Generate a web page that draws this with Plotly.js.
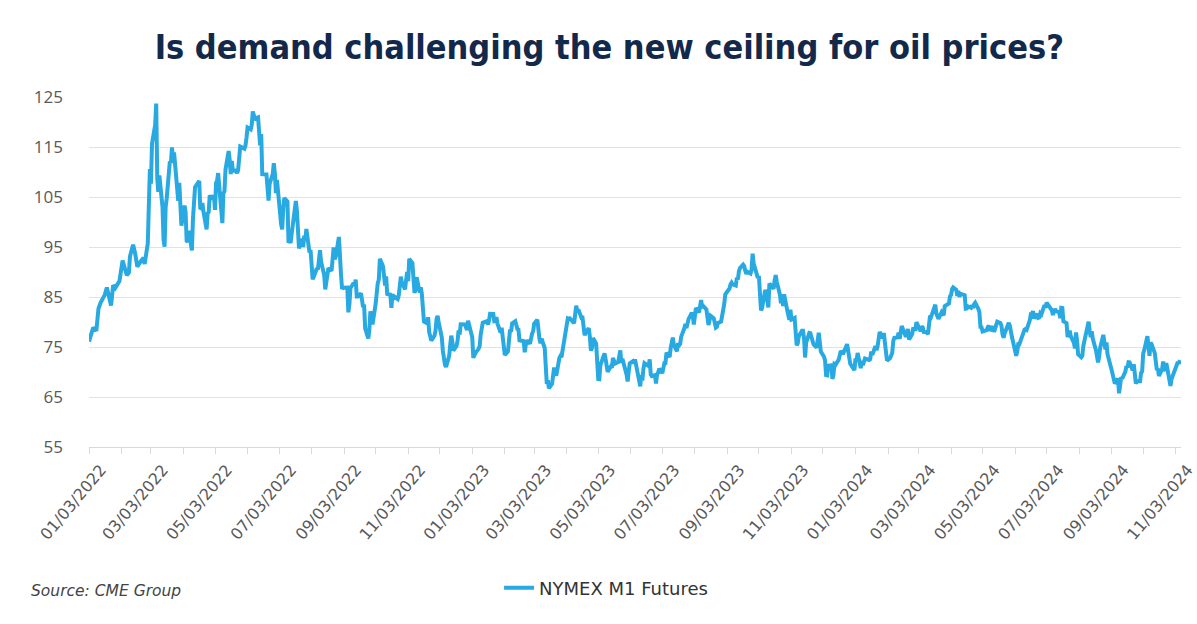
<!DOCTYPE html>
<html><head><meta charset="utf-8">
<script src="https://cdn.plot.ly/plotly-3.0.1.min.js"></script>
<style>html,body{margin:0;padding:0;background:#fff}#chart{width:1197px;height:624px}</style>
</head><body><div id="chart"></div>
<script>
// NYMEX WTI front-month (M1) settlement, USD/bbl — dates as MM-DD per year
const d22 = [
"01-03","01-05","01-07","01-10","01-12","01-14","01-18","01-20","01-24","01-26","01-28",
"02-01","02-03","02-04","02-08","02-10","02-11","02-14","02-16","02-18","02-22","02-24","02-25","02-28",
"03-01","03-02","03-03","03-04","03-07","03-08","03-09","03-10","03-11","03-14","03-15","03-16","03-17","03-18","03-21","03-22","03-23","03-24","03-25","03-28","03-29","03-30","03-31",
"04-01","04-04","04-05","04-06","04-07","04-08","04-11","04-12","04-13","04-14","04-18","04-19","04-20","04-21","04-22","04-25","04-26","04-27","04-28","04-29",
"05-02","05-03","05-04","05-05","05-06","05-09","05-10","05-11","05-12","05-13","05-16","05-17","05-18","05-19","05-20","05-23","05-24","05-25","05-26","05-27","05-31",
"06-01","06-02","06-03","06-06","06-07","06-08","06-09","06-10","06-13","06-14","06-15","06-16","06-17","06-21","06-22","06-23","06-24","06-27","06-28","06-29","06-30",
"07-01","07-05","07-06","07-07","07-08","07-11","07-12","07-13","07-14","07-15","07-18","07-19","07-20","07-21","07-22","07-25","07-26","07-27","07-28","07-29",
"08-01","08-02","08-03","08-04","08-05","08-08","08-09","08-10","08-11","08-12","08-15","08-16","08-17","08-18","08-19","08-22","08-23","08-24","08-25","08-26","08-29","08-30","08-31",
"09-01","09-02","09-06","09-07","09-08","09-09","09-12","09-13","09-14","09-15","09-16","09-19","09-20","09-21","09-22","09-23","09-26","09-27","09-28","09-29","09-30",
"10-03","10-04","10-05","10-06","10-07","10-10","10-11","10-12","10-13","10-14","10-17","10-18","10-19","10-20","10-21","10-24","10-25","10-26","10-27","10-28","10-31",
"11-01","11-02","11-03","11-04","11-07","11-08","11-09","11-10","11-11","11-14","11-15","11-16","11-17","11-18","11-21","11-22","11-23","11-25","11-28","11-29","11-30",
"12-01","12-02","12-05","12-06","12-07","12-08","12-09","12-12","12-13","12-14","12-15","12-16","12-19","12-20","12-21","12-22","12-23","12-27","12-28","12-29","12-30"];
const p22 = [
76.08,77.85,78.90,78.23,82.64,83.82,85.43,86.90,83.31,87.35,86.82,
88.20,90.27,92.31,89.36,89.88,93.10,95.46,93.66,91.07,92.35,92.81,91.59,95.72,
103.41,110.60,107.67,115.68,119.40,123.70,108.70,106.02,109.33,103.01,96.44,95.04,102.98,104.70,112.12,111.76,114.93,112.34,113.90,105.96,104.24,107.82,100.28,
99.27,103.28,101.96,96.23,96.03,98.26,94.29,100.60,104.25,106.95,108.21,102.56,102.75,103.79,102.07,98.54,101.70,101.99,105.36,104.69,
105.17,102.41,107.81,108.26,109.77,103.09,99.76,105.71,106.13,110.49,114.20,112.40,109.59,112.21,110.28,110.29,109.77,110.33,114.09,115.07,114.67,
115.26,116.87,118.87,118.50,119.41,122.11,121.51,120.67,120.93,118.93,115.31,117.59,109.56,109.52,106.19,104.27,107.62,109.57,111.76,109.78,105.76,
108.43,99.50,98.53,102.73,104.79,104.09,95.84,96.30,95.78,97.59,102.60,104.22,102.26,96.35,94.70,96.70,94.98,97.26,96.42,98.62,
93.89,94.42,90.66,88.54,89.01,90.76,90.50,91.93,94.34,92.09,89.41,86.53,88.11,90.50,90.77,90.23,93.74,94.89,92.52,93.06,97.01,91.64,89.55,
86.61,86.87,86.88,81.94,83.54,86.79,87.78,87.31,88.48,85.10,85.11,85.73,84.45,82.94,83.49,78.74,76.71,78.50,82.15,81.23,79.49,
83.63,86.52,87.76,88.45,92.64,91.13,89.35,87.27,89.11,85.61,85.46,82.82,85.55,84.51,85.05,84.58,85.32,87.91,89.08,87.90,86.53,
88.37,90.00,88.17,92.61,91.79,88.91,85.83,86.47,88.96,85.87,86.92,85.59,81.64,80.08,79.73,80.95,77.94,76.28,77.24,78.20,80.55,
81.22,79.98,76.93,74.25,72.01,71.46,71.02,73.17,75.39,77.28,76.11,74.29,75.19,76.23,78.29,77.49,79.56,79.53,78.96,78.40,80.26];

const d23 = [
"01-03","01-04","01-05","01-06","01-09","01-10","01-11","01-12","01-13","01-17","01-18","01-19","01-20","01-23","01-24","01-25","01-26","01-27","01-30","01-31",
"02-01","02-02","02-03","02-06","02-07","02-08","02-09","02-10","02-13","02-14","02-15","02-16","02-17","02-21","02-22","02-23","02-24","02-27","02-28",
"03-01","03-02","03-03","03-06","03-07","03-08","03-09","03-10","03-13","03-14","03-15","03-16","03-17","03-20","03-21","03-22","03-23","03-24","03-27","03-28","03-29","03-30","03-31",
"04-03","04-04","04-05","04-06","04-10","04-11","04-12","04-13","04-14","04-17","04-18","04-19","04-20","04-21","04-24","04-25","04-26","04-27","04-28",
"05-01","05-02","05-03","05-04","05-05","05-08","05-09","05-10","05-11","05-12","05-15","05-16","05-17","05-18","05-19","05-22","05-23","05-24","05-25","05-26","05-30","05-31",
"06-01","06-02","06-05","06-06","06-07","06-08","06-09","06-12","06-13","06-14","06-15","06-16","06-20","06-21","06-22","06-23","06-26","06-27","06-28","06-29","06-30",
"07-03","07-05","07-06","07-07","07-10","07-11","07-12","07-13","07-14","07-17","07-18","07-19","07-20","07-21","07-24","07-25","07-26","07-27","07-28","07-31",
"08-01","08-02","08-03","08-04","08-07","08-08","08-09","08-10","08-11","08-14","08-15","08-16","08-17","08-18","08-21","08-22","08-23","08-24","08-25","08-28","08-29","08-30","08-31",
"09-01","09-05","09-06","09-07","09-08","09-11","09-12","09-13","09-14","09-15","09-18","09-19","09-20","09-21","09-22","09-25","09-26","09-27","09-28","09-29",
"10-02","10-03","10-04","10-05","10-06","10-09","10-10","10-11","10-12","10-13","10-16","10-17","10-18","10-19","10-20","10-23","10-24","10-25","10-26","10-27","10-30","10-31",
"11-01","11-02","11-03","11-06","11-07","11-08","11-09","11-10","11-13","11-14","11-15","11-16","11-17","11-20","11-21","11-22","11-24","11-27","11-28","11-29","11-30",
"12-01","12-04","12-05","12-06","12-07","12-08","12-11","12-12","12-13","12-14","12-15","12-18","12-19","12-20","12-21","12-22","12-26","12-27","12-28","12-29"];
const p23 = [
76.93,72.84,73.67,73.77,74.63,75.12,77.41,78.39,79.86,80.18,79.48,80.33,81.64,81.62,80.13,80.15,81.01,79.68,77.90,78.87,
76.41,75.88,73.39,74.11,77.14,78.47,78.06,79.72,80.14,79.06,78.59,78.49,76.34,76.16,73.95,75.39,76.32,75.68,77.05,
77.69,78.16,79.68,80.46,77.58,76.66,75.72,76.68,74.80,71.33,67.61,68.35,66.74,67.64,69.33,70.90,69.96,69.26,72.81,73.20,72.97,74.37,75.67,
80.42,80.71,80.61,80.70,79.74,81.53,83.26,82.16,82.52,80.83,80.86,79.16,77.37,77.87,78.76,77.07,74.30,74.76,76.78,
75.66,71.66,68.60,68.56,71.34,73.16,73.71,72.56,70.87,70.04,71.11,70.86,72.83,71.86,71.69,71.99,72.91,74.34,71.83,72.67,69.46,68.09,
70.10,71.74,72.15,71.74,72.53,71.29,70.17,67.12,69.42,68.27,70.62,71.78,71.19,72.53,69.51,69.16,69.37,67.70,69.56,69.86,70.64,
69.79,71.79,71.80,73.86,72.99,74.83,75.75,76.89,75.42,74.15,75.75,75.35,75.63,77.07,78.74,79.63,78.78,80.09,80.58,81.80,
81.37,79.49,81.55,82.82,81.94,82.92,84.40,82.82,83.19,82.51,80.99,79.38,80.39,81.25,80.72,79.64,78.89,79.05,79.83,80.10,81.16,81.63,83.63,
85.55,86.69,87.54,87.87,87.51,87.29,88.84,88.52,90.16,90.77,91.48,91.20,90.28,89.63,90.03,89.68,90.39,93.68,91.71,90.79,
88.82,89.23,84.22,82.31,82.79,86.38,85.97,83.49,82.91,87.69,86.66,86.66,88.32,89.37,88.08,85.49,83.74,85.39,83.21,85.54,82.31,81.02,
80.44,82.46,80.51,80.82,77.37,75.33,75.74,77.17,78.26,78.26,76.66,72.90,75.89,77.83,77.77,77.10,75.54,74.86,76.41,77.86,75.96,
74.07,73.04,72.32,69.38,69.34,71.23,71.32,68.61,69.47,71.58,71.43,72.47,73.94,74.22,73.89,73.56,75.57,74.11,71.77,71.65];

const d24 = [
"01-02","01-03","01-04","01-05","01-08","01-09","01-10","01-11","01-12","01-16","01-17","01-18","01-19","01-22","01-23","01-24","01-25","01-26","01-29","01-30","01-31",
"02-01","02-02","02-05","02-06","02-07","02-08","02-09","02-12","02-13","02-14","02-15","02-16","02-20","02-21","02-22","02-23","02-26","02-27","02-28","02-29",
"03-01","03-04","03-05","03-06","03-07","03-08","03-11","03-12","03-13","03-14","03-15","03-18","03-19","03-20","03-21","03-22","03-25","03-26","03-27","03-28",
"04-01","04-02","04-03","04-04","04-05","04-08","04-09","04-10","04-11","04-12","04-15","04-16","04-17","04-18","04-19","04-22","04-23","04-24","04-25","04-26","04-29","04-30",
"05-01","05-02","05-03","05-06","05-07","05-08","05-09","05-10","05-13","05-14","05-15","05-16","05-17","05-20","05-21","05-22","05-23","05-24","05-28","05-29","05-30","05-31",
"06-03","06-04","06-05","06-06","06-07","06-10","06-11","06-12","06-13","06-14","06-17","06-18","06-19","06-20","06-21","06-24","06-25","06-26","06-27","06-28",
"07-01","07-02","07-03","07-05","07-08","07-09","07-10","07-11","07-12","07-15","07-16","07-17","07-18","07-19","07-22","07-23","07-24","07-25","07-26","07-29","07-30","07-31",
"08-01","08-02","08-05","08-06","08-07","08-08","08-09","08-12","08-13","08-14","08-15","08-16","08-19","08-20","08-21","08-22","08-23","08-26","08-27","08-28","08-29","08-30",
"09-03","09-04","09-05","09-06","09-09","09-10","09-11","09-12","09-13","09-16","09-17","09-18","09-19","09-20","09-23","09-24","09-25","09-26","09-27","09-30",
"10-01","10-02","10-03","10-04","10-07","10-08","10-09","10-10","10-11","10-14","10-15","10-16","10-17","10-18","10-21","10-22","10-23","10-24","10-25","10-28","10-29","10-30","10-31",
"11-01","11-04","11-05","11-06","11-07"];
const p24 = [
70.38,72.70,72.19,73.81,70.77,72.24,71.37,72.02,72.68,72.40,72.56,74.08,73.41,75.19,74.37,75.09,77.36,78.01,76.78,77.82,75.85,
73.82,72.28,72.78,73.31,73.86,76.22,76.84,76.92,77.87,76.64,78.03,79.19,77.04,77.91,78.61,76.49,77.58,78.87,78.54,78.26,
79.97,78.74,78.15,79.13,78.93,78.01,77.93,77.56,79.72,81.26,81.04,82.72,83.47,81.68,81.07,80.63,81.95,81.62,81.35,83.17,
83.71,85.15,85.43,86.59,86.91,86.43,85.23,86.21,85.02,85.66,85.41,85.36,82.69,82.73,83.14,82.85,83.36,82.81,83.57,83.85,82.63,81.93,
79.00,78.95,78.11,78.48,78.38,78.99,79.26,78.26,79.12,78.02,78.63,79.23,80.06,79.80,79.26,77.57,76.87,77.72,79.83,79.23,77.91,76.99,
74.22,73.25,74.07,75.55,75.53,77.74,77.90,78.50,78.62,78.45,80.33,81.57,81.57,82.17,80.73,81.63,80.83,80.90,81.74,81.54,
83.38,82.81,83.88,83.16,82.33,81.41,82.10,82.62,82.21,81.91,80.76,82.85,82.82,80.13,79.78,76.96,77.59,78.28,77.16,75.81,74.73,77.91,
76.31,73.52,72.94,73.20,75.23,76.19,76.84,80.06,78.35,76.98,78.16,76.65,74.37,73.17,71.93,73.01,74.83,77.42,75.53,74.52,75.91,73.55,
70.34,69.20,69.15,67.67,68.71,65.75,67.31,68.97,68.65,70.09,71.19,70.91,71.95,71.92,70.37,71.56,69.69,67.67,68.18,68.17,
69.83,70.10,73.71,74.38,77.14,73.57,73.24,75.85,75.56,73.83,70.58,70.39,70.67,69.22,70.56,72.09,70.77,70.19,71.78,67.38,67.21,68.61,69.26,
69.49,71.47,71.99,71.69,72.36];

const seriesName = "NYMEX M1 Futures";
const chartTitle = "Is demand challenging the new ceiling for oil prices?";
const sourceText = "Source: CME Group";

const xs = [].concat(
  d22.map(d => "2022-" + d),
  d23.map(d => "2023-" + d),
  d24.map(d => "2024-" + d));
const ys = [].concat(p22, p23, p24);

const trace = {
  x: xs, y: ys, type: "scatter", mode: "lines", name: seriesName,
  line: {color: "#29a9e1", width: 4}
};

const layout = {
  width: 1197, height: 624,
  margin: {l: 89, r: 16, t: 97, b: 177},
  paper_bgcolor: "#ffffff", plot_bgcolor: "#ffffff",
  showlegend: true,
  title: {
    text: chartTitle,
    font: {family: "DejaVu Sans Condensed, DejaVu Sans, sans-serif", size: 34, color: "#13294b", weight: 700},
    x: 0.509, xanchor: "center", xref: "container",
    y: 0.925, yanchor: "middle", yref: "container"
  },
  xaxis: {
    type: "date",
    range: ["2022-01-03", "2024-11-08"],
    tick0: "2022-01-03", dtick: "M2",
    tickformat: "%m/%d/%Y",
    tickangle: -50,
    ticklabelshift: 12,
    ticks: "outside", ticklen: 6, tickcolor: "#d9d9d9",
    showgrid: false, zeroline: false,
    showline: true, linecolor: "#d9d9d9", linewidth: 1,
    tickfont: {family: "DejaVu Sans, sans-serif", size: 16, color: "#595959"},
    minor: {dtick: "M1", tick0: "2022-01-03", ticks: "outside", ticklen: 6, tickcolor: "#d9d9d9", showgrid: false}
  },
  yaxis: {
    range: [55, 125], tick0: 55, dtick: 10,
    showgrid: true, gridcolor: "#e2e2e2", gridwidth: 1,
    zeroline: false, showline: false, ticks: "",
    ticklabelstandoff: 25,
    tickfont: {family: "Open Sans, sans-serif", size: 17, color: "#595959"}
  },
  legend: {
    orientation: "h", x: 0.4735, xanchor: "center", y: -0.403, yanchor: "middle",
    font: {family: "DejaVu Sans, sans-serif", size: 18, color: "#333333"},
    bgcolor: "rgba(0,0,0,0)"
  },
  annotations: [{
    text: "<i>" + sourceText + "</i>",
    xref: "paper", yref: "paper", x: -0.055, y: -0.411,
    xanchor: "left", yanchor: "middle", showarrow: false,
    font: {family: "DejaVu Sans, sans-serif", size: 15.5, color: "#444444"}
  }]
};

Plotly.newPlot("chart", [trace], layout, {displayModeBar: false, staticPlot: true});
</script>
</body></html>
